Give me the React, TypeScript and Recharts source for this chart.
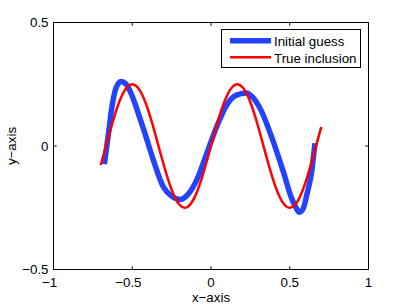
import React from 'react';
import { LineChart, Line, XAxis, YAxis } from 'recharts';

const xTicks = [-1, -0.5, 0, 0.5, 1];
const yTicks = [-0.5, 0, 0.5];
const xDomain: [number, number] = [-1, 1];
const yDomain: [number, number] = [-0.5, 0.5];

const seriesNames = ['Initial guess', 'True inclusion'];
const seriesColors = ['#2343ff', '#ff0000'];
const xTitle = 'x\u2212axis';
const yTitle = 'y\u2212axis';

// Initial guess (thick blue curve)
const guessX = [-0.677, -0.652, -0.630, -0.603, -0.571, -0.540, -0.503, -0.451, -0.423, -0.366, -0.303, -0.248, -0.197, -0.146, -0.091, -0.027, 0.036, 0.100, 0.159, 0.227, 0.267, 0.311, 0.396, 0.459, 0.512, 0.540, 0.561, 0.584, 0.608, 0.639, 0.660];
const guessY = [-0.073, 0.045, 0.154, 0.235, 0.261, 0.251, 0.206, 0.112, 0.058, -0.057, -0.165, -0.204, -0.217, -0.196, -0.138, -0.030, 0.078, 0.166, 0.205, 0.215, 0.196, 0.153, 0.017, -0.104, -0.212, -0.250, -0.268, -0.255, -0.198, -0.104, 0.011];

// True inclusion (red curve)
const trueX = [-0.70, -0.65, -0.60, -0.55, -0.50, -0.45, -0.40, -0.35, -0.30, -0.25, -0.20, -0.15, -0.10, -0.05, 0, 0.05, 0.10, 0.15, 0.20, 0.25, 0.30, 0.35, 0.40, 0.45, 0.50, 0.55, 0.60, 0.65, 0.70];
const trueY = [-0.077, 0.039, 0.147, 0.223, 0.250, 0.223, 0.147, 0.039, -0.077, -0.177, -0.238, -0.247, -0.202, -0.113, 0, 0.113, 0.202, 0.247, 0.238, 0.177, 0.077, -0.039, -0.147, -0.223, -0.250, -0.223, -0.147, -0.039, 0.077];

const guessData = guessX.map((x, i) => ({ x, y: guessY[i] }));
const trueData = trueX.map((x, i) => ({ x, y: trueY[i] }));

const FONT = '"Liberation Sans", Arial, Helvetica, sans-serif';
const FS = 13.33;
const TICK = 3.2;
const CHART_W = 407;
const CHART_H = 307;
const MARGIN = { top: 22.5, right: 38.5, bottom: 0, left: 0 };
const Y_AXIS_W = 53.5;
const X_AXIS_H = 37.5;
const PLOT_LEFT = MARGIN.left + Y_AXIS_W;
const PLOT_TOP = MARGIN.top;
const PLOT_W = CHART_W - MARGIN.left - MARGIN.right - Y_AXIS_W;
const PLOT_H = CHART_H - MARGIN.top - MARGIN.bottom - X_AXIS_H;

const numWidth = (s: string) =>
  s.split('').reduce((a, c) => a + (c === '.' ? 0.278 : 0.556), 0) * FS;

const BottomTick = (props: any) => {
  const { x, y, payload } = props;
  const v = payload.value as number;
  const s = String(Math.abs(v));
  const w = numWidth(s);
  return (
    <g>
      <line x1={x} y1={y} x2={x} y2={y - TICK} stroke="#000" strokeWidth={1} />
      <text x={x} y={y + 17.5} textAnchor="middle" fontFamily={FONT} fontSize={FS} fill="#000">{s}</text>
      {v < 0 && (
        <text x={x - w / 2} y={y + 17.5} textAnchor="end" fontFamily={FONT} fontSize={FS} fill="#000">{'\u2212'}</text>
      )}
    </g>
  );
};

const LeftTick = (props: any) => {
  const { x, y, payload } = props;
  const v = payload.value as number;
  const s = (v < 0 ? '\u2212' : '') + String(Math.abs(v));
  return (
    <g>
      <line x1={x} y1={y} x2={x + TICK} y2={y} stroke="#000" strokeWidth={1} />
      <text x={x - 5} y={y + 4.7} textAnchor="end" fontFamily={FONT} fontSize={FS} fill="#000">{s}</text>
    </g>
  );
};

// y-axis title plus the top/right sides of the axes box (with inward ticks)
const YTitleAndBox = (p: any) => {
  const vb = p.viewBox || {};
  const top = Number.isFinite(vb.y) ? vb.y : PLOT_TOP;
  const h = Number.isFinite(vb.height) ? vb.height : PLOT_H;
  const cy = top + h / 2;
  const left = PLOT_LEFT;
  const right = left + PLOT_W;
  const bottom = top + h;
  return (
    <g>
      <text
        x={15.5}
        y={cy}
        transform={`rotate(-90, 15.5, ${cy})`}
        textAnchor="middle"
        fontFamily={FONT}
        fontSize={FS}
        fill="#000"
      >
        {yTitle}
      </text>
      <path d={`M${left},${top}H${right}V${bottom}`} fill="none" stroke="#000" strokeWidth={1} />
      {xTicks.map((t) => {
        const tx = left + ((t - xDomain[0]) / (xDomain[1] - xDomain[0])) * PLOT_W;
        return <path key={'tx' + t} d={`M${tx},${top}V${top + TICK}`} stroke="#000" strokeWidth={1} />;
      })}
      {yTicks.map((t) => {
        const ty = top + ((yDomain[1] - t) / (yDomain[1] - yDomain[0])) * h;
        return <path key={'ty' + t} d={`M${right},${ty}H${right - TICK}`} stroke="#000" strokeWidth={1} />;
      })}
    </g>
  );
};

const LegendBox = () => (
  <svg width={141} height={40} style={{ display: 'block' }}>
    <rect x={0.5} y={0.5} width={139} height={38} fill="#fff" stroke="#000" strokeWidth={1} />
    <line x1={9} y1={11.7} x2={50} y2={11.7} stroke={seriesColors[0]} strokeWidth={5.5} />
    <line x1={9} y1={28.3} x2={50} y2={28.3} stroke={seriesColors[1]} strokeWidth={2.5} />
    <text x={53} y={17} fontFamily={FONT} fontSize={FS} fill="#000">{seriesNames[0]}</text>
    <text x={53} y={33.7} fontFamily={FONT} fontSize={FS} fill="#000">{seriesNames[1]}</text>
  </svg>
);

export default function App() {
  return (
    <div style={{ position: 'absolute', left: 0, top: 0, width: CHART_W, height: CHART_H, background: '#fff' }}>
      <LineChart width={CHART_W} height={CHART_H} margin={MARGIN}>
        <XAxis
          dataKey="x"
          type="number"
          domain={xDomain}
          ticks={xTicks}
          interval={0}
          height={X_AXIS_H}
          tickSize={0}
          tickMargin={0}
          tickLine={false}
          axisLine={{ stroke: '#000', strokeWidth: 1 }}
          tick={<BottomTick />}
          label={{
            content: (p: any) => (
              <text
                x={p.viewBox.x + p.viewBox.width / 2}
                y={p.viewBox.y + 32}
                textAnchor="middle"
                fontFamily={FONT}
                fontSize={FS}
                fill="#000"
              >
                {xTitle}
              </text>
            ),
          }}
        />
        <YAxis
          type="number"
          domain={yDomain}
          ticks={yTicks}
          interval={0}
          width={Y_AXIS_W}
          tickSize={0}
          tickMargin={0}
          tickLine={false}
          axisLine={{ stroke: '#000', strokeWidth: 1 }}
          tick={<LeftTick />}
          label={{ content: (p: any) => <YTitleAndBox {...p} /> }}
        />
        <Line
          data={guessData}
          dataKey="y"
          name={seriesNames[0]}
          type="monotone"
          stroke={seriesColors[0]}
          strokeWidth={5.5}
          dot={false}
          activeDot={false}
          isAnimationActive={false}
        />
        <Line
          data={trueData}
          dataKey="y"
          name={seriesNames[1]}
          type="natural"
          stroke={seriesColors[1]}
          strokeWidth={2.5}
          dot={false}
          activeDot={false}
          isAnimationActive={false}
        />
      </LineChart>
      <div style={{ position: 'absolute', left: 221, top: 29, width: 141, height: 40 }}>
        <LegendBox />
      </div>
    </div>
  );
}
